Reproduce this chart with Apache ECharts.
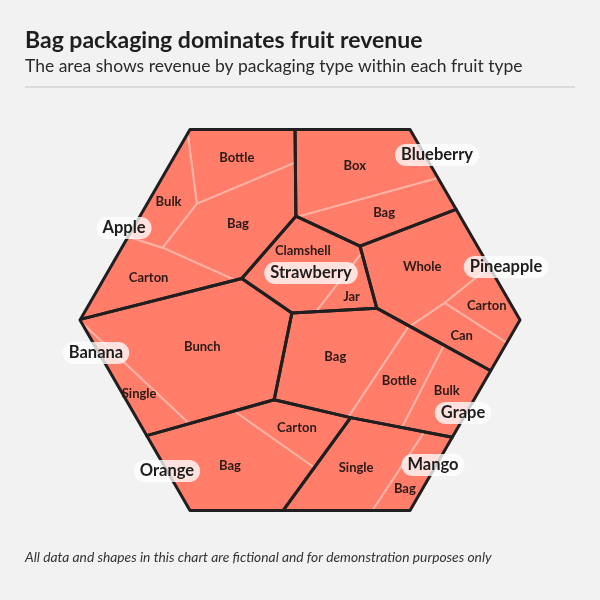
<!DOCTYPE html>
<html>
<head>
<meta charset="utf-8">
<title>Bag packaging dominates fruit revenue</title>
<script src="https://cdn.jsdelivr.net/npm/echarts@6/dist/echarts.min.js"></script>
<style>
  html, body { margin: 0; padding: 0; background: #f2f2f2; }
  #chart { width: 600px; height: 600px; }
</style>
</head>
<body>
<div id="chart"></div>
<script>
// ---- data (revenue) ----
var fruits = ['Apple', 'Blueberry', 'Strawberry', 'Pineapple', 'Banana', 'Grape', 'Orange', 'Mango'];
var packaging = [
    ['Bag', 'Bottle', 'Carton', 'Bulk'],
    ['Box', 'Bag'],
    ['Clamshell', 'Jar'],
    ['Whole', 'Can', 'Carton'],
    ['Bunch', 'Single'],
    ['Bag', 'Bottle', 'Bulk'],
    ['Bag', 'Carton'],
    ['Single', 'Bag']
];
var revenue = [
    [85, 56, 56, 35],
    [90, 51],
    [66, 17],
    [90, 29, 27],
    [187, 28],
    [99, 46, 43],
    [110, 38],
    [74, 26]
];

// ---- layout hints: voronoi sites (plot space), weights get solved from the values ----
var fruitSites = [[-80, -88], [391.4, -92.7], [254, 202.5], [481, 141.3], [63.7, 478.5], [272.2, 521.1], [183.1, 902.1], [196.7, 912]];
var packSites = [
    [[245, 225], [219, 163], [-55, 895], [173, 169]],
    [[355, 165], [368, 212]],
    [[298, 265], [352, 307]],
    [[1, -347], [461, 333], [500, 272]],
    [[215, 345], [139, 426]],
    [[339, 353], [399, 393], [452, 420]],
    [[235, 467], [292, 386]],
    [[356, 467], [412, 504]]
];
// where the fruit name tags sit
var fruitLabelPos = [[124, 228], [437, 155], [311, 273], [506, 267], [96, 353], [463, 413], [167, 471], [433, 465]];

var HEX_CX = 300, HEX_CY = 320, HEX_R = 220;
var FONT = 'Lato';

// ---- power diagram helpers ----
function clip(poly, a, b, c) { // keep a*x + b*y <= c
    var out = [];
    for (var k = 0; k < poly.length; k++) {
        var P = poly[k], Q = poly[(k + 1) % poly.length];
        var fp = a * P[0] + b * P[1] - c, fq = a * Q[0] + b * Q[1] - c;
        if (fp <= 0) out.push(P);
        if ((fp <= 0) !== (fq <= 0)) {
            var t = fp / (fp - fq);
            out.push([P[0] + t * (Q[0] - P[0]), P[1] + t * (Q[1] - P[1])]);
        }
    }
    return out;
}
function bisector(s, t, wi, wj) {
    return [2 * (t[0] - s[0]), 2 * (t[1] - s[1]), t[0] * t[0] + t[1] * t[1] - s[0] * s[0] - s[1] * s[1] - wj + wi];
}
function powerCells(region, sites, w) {
    return sites.map(function (s, i) {
        var poly = region;
        sites.forEach(function (t, j) {
            if (i === j || poly.length === 0) return;
            var h = bisector(s, t, w[i], w[j]);
            poly = clip(poly, h[0], h[1], h[2]);
        });
        return poly;
    });
}
function area(p) {
    var s = 0;
    for (var k = 0; k < p.length; k++) {
        var P = p[k], Q = p[(k + 1) % p.length];
        s += P[0] * Q[1] - Q[0] * P[1];
    }
    return Math.abs(s) / 2;
}
function centroid(p) {
    var s = 0, cx = 0, cy = 0;
    for (var k = 0; k < p.length; k++) {
        var P = p[k], Q = p[(k + 1) % p.length];
        var cr = P[0] * Q[1] - Q[0] * P[1];
        s += cr; cx += (P[0] + Q[0]) * cr; cy += (P[1] + Q[1]) * cr;
    }
    return [cx / (3 * s), cy / (3 * s)];
}
function inside(p, pt) {
    var sign = 0;
    for (var k = 0; k < p.length; k++) {
        var P = p[k], Q = p[(k + 1) % p.length];
        var cr = (Q[0] - P[0]) * (pt[1] - P[1]) - (Q[1] - P[1]) * (pt[0] - P[0]);
        if (cr !== 0) {
            if (sign === 0) sign = cr > 0 ? 1 : -1;
            else if ((cr > 0 ? 1 : -1) !== sign) return false;
        }
    }
    return true;
}
// d(area)/d(weight): sum over shared edges of length / (2 * site distance)
function areaSlope(cell, i, sites, w) {
    var D = 0, s = sites[i];
    for (var k = 0; k < cell.length; k++) {
        var P = cell[k], Q = cell[(k + 1) % cell.length];
        var mx = (P[0] + Q[0]) / 2, my = (P[1] + Q[1]) / 2, len = Math.hypot(Q[0] - P[0], Q[1] - P[1]);
        sites.forEach(function (t, j) {
            if (j === i) return;
            var d = Math.hypot(t[0] - s[0], t[1] - s[1]);
            var h = bisector(s, t, w[i], w[j]);
            if (Math.abs(h[0] * mx + h[1] * my - h[2]) / (2 * d) < 0.01) D += len / (2 * d);
        });
    }
    return D;
}
// weighted voronoi: sites stay put, weights are tuned until areas match values
function voronoiLayout(region, sites, values) {
    var total = values.reduce(function (a, b) { return a + b; }, 0);
    var A = area(region), c0 = centroid(region);
    var target = values.map(function (v) { return v / total * A; });
    var w = sites.map(function (s) { return (s[0] - c0[0]) * (s[0] - c0[0]) + (s[1] - c0[1]) * (s[1] - c0[1]); });
    for (var it = 0; it < 400; it++) {
        var cells = powerCells(region, sites, w);
        var nw = w.slice();
        cells.forEach(function (c, i) {
            var a = area(c), D = areaSlope(c, i, sites, w);
            if (a < 1 || D < 1e-6) nw[i] += 0.5 * target[i];
            else nw[i] += 0.5 * (target[i] - a) / D;
        });
        w = nw;
    }
    return powerCells(region, sites, w);
}

// ---- build the treemap ----
var hexagon = [];
for (var k = 0; k < 6; k++) {
    var ang = Math.PI / 3 * k;
    hexagon.push([HEX_CX + HEX_R * Math.cos(ang), HEX_CY + HEX_R * Math.sin(ang)]);
}
var fruitTotals = revenue.map(function (r) { return r.reduce(function (a, b) { return a + b; }, 0); });
var fruitCells = voronoiLayout(hexagon, fruitSites, fruitTotals);
var packCells = fruitCells.map(function (cell, f) {
    return voronoiLayout(cell, packSites[f], revenue[f]);
});

// packaging labels at cell centres, pushed off the fruit tags if they collide
var packData = [];
fruits.forEach(function (fruit, f) {
    packaging[f].forEach(function (p, i) {
        var c = centroid(packCells[f][i]);
        var pw = p.length * 6.8, moved = false;
        fruitLabelPos.forEach(function (lp, g) {
            var fw = fruits[g].length * 8.5 + 12;
            var dx = Math.abs(c[0] - lp[0]), dy = c[1] - lp[1];
            if (dx < (fw + pw) / 2 && Math.abs(dy) < 19) {
                c = [c[0], lp[1] + (dy < 0 ? -22 : 24)];
                moved = true;
            }
        });
        // a pushed label must stay within the hexagon
        if (moved) {
            var n = 0;
            while (n++ < 40 && !(inside(hexagon, [c[0] + pw / 2 + 2, c[1] + 8]) && inside(hexagon, [c[0] - pw / 2 - 2, c[1] + 8]))) {
                c = [c[0] + (c[0] < HEX_CX ? 1 : -1), c[1]];
            }
        }
        packData.push({ name: fruit + ' ' + p, value: [c[0], c[1], revenue[f][i], f, i] });
    });
});
var fruitData = fruits.map(function (fruit, f) {
    return { name: fruit, value: [fruitLabelPos[f][0], fruitLabelPos[f][1], fruitTotals[f], f] };
});

var myChart = echarts.init(document.getElementById('chart'));
var option = {
    backgroundColor: '#f2f2f2',
    animation: false,
    grid: { left: HEX_CX - HEX_R, top: 129, width: 2 * HEX_R, height: 382 },
    xAxis: { type: 'value', min: HEX_CX - HEX_R, max: HEX_CX + HEX_R, show: false },
    yAxis: { type: 'value', min: 129, max: 511, inverse: true, show: false },
    graphic: [
        { type: 'text', left: 25, top: 29, style: { text: 'Bag packaging dominates fruit revenue', font: 'bold 23px ' + FONT, fill: '#1e1e1e' } },
        { type: 'text', left: 25, top: 57, style: { text: 'The area shows revenue by packaging type within each fruit type', font: '17.5px ' + FONT, fill: '#2a2a2a' } },
        { type: 'line', shape: { x1: 25, y1: 87, x2: 575, y2: 87 }, style: { stroke: '#c4c4c4', lineWidth: 1 } },
        { type: 'text', left: 25, top: 551, style: { text: 'All data and shapes in this chart are fictional and for demonstration purposes only', font: 'italic 13.8px ' + FONT, fill: '#333' } }
    ],
    series: [
        {
            // packaging cells
            type: 'custom',
            coordinateSystem: 'cartesian2d',
            clip: false,
            z: 1,
            data: packData,
            renderItem: function (params, api) {
                var f = api.value(3), i = api.value(4);
                var pts = packCells[f][i].map(function (pt) { return api.coord(pt); });
                return {
                    type: 'polygon',
                    shape: { points: pts },
                    style: { fill: '#ff7d69', stroke: '#ffb2a5', lineWidth: 2, lineJoin: 'round' }
                };
            }
        },
        {
            // fruit borders
            type: 'custom',
            coordinateSystem: 'cartesian2d',
            clip: false,
            z: 2,
            silent: true,
            data: fruitData,
            renderItem: function (params, api) {
                var f = api.value(3);
                var pts = fruitCells[f].map(function (pt) { return api.coord(pt); });
                return {
                    type: 'polygon',
                    shape: { points: pts },
                    style: { fill: 'none', stroke: '#1f1f1f', lineWidth: 3, lineJoin: 'round' }
                };
            }
        },
        {
            // packaging names
            type: 'custom',
            coordinateSystem: 'cartesian2d',
            clip: false,
            z: 3,
            data: packData,
            renderItem: function (params, api) {
                var f = api.value(3), i = api.value(4);
                var p = api.coord([api.value(0), api.value(1)]);
                return {
                    type: 'text',
                    x: p[0], y: p[1],
                    style: { text: packaging[f][i], font: 'bold 13px ' + FONT, fill: '#2b1a17', align: 'center', verticalAlign: 'middle' }
                };
            }
        },
        {
            // fruit tags
            type: 'custom',
            coordinateSystem: 'cartesian2d',
            clip: false,
            z: 4,
            data: fruitData,
            renderItem: function (params, api) {
                var p = api.coord([api.value(0), api.value(1)]);
                return {
                    type: 'text',
                    x: p[0], y: p[1],
                    style: {
                        text: fruits[api.value(3)], font: 'bold 16.5px ' + FONT, fill: '#1e1e1e',
                        align: 'center', verticalAlign: 'middle',
                        backgroundColor: 'rgba(255,255,255,0.78)', borderRadius: 11, padding: [3, 6, 2, 6]
                    }
                };
            }
        }
    ]
};
myChart.setOption(option);
</script>
</body>
</html>
